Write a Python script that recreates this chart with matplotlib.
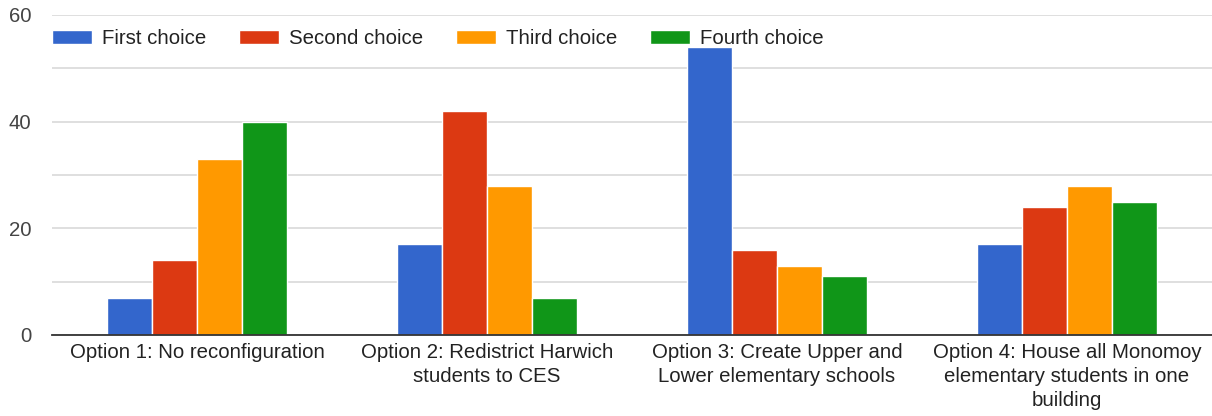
import numpy as np
import matplotlib
matplotlib.use("Agg")
import matplotlib.pyplot as plt

categories = [
    "Option 1: No reconfiguration",
    "Option 2: Redistrict Harwich\nstudents to CES",
    "Option 3: Create Upper and\nLower elementary schools",
    "Option 4: House all Monomoy\nelementary students in one\nbuilding",
]
series_names = ["First choice", "Second choice", "Third choice", "Fourth choice"]
first = [7, 17, 54, 17]
second = [14, 42, 16, 24]
third = [33, 28, 13, 28]
fourth = [40, 7, 11, 25]
colors = ["#3366cc", "#dc3912", "#ff9900", "#109618"]

plt.rcParams["font.family"] = ["Liberation Sans", "DejaVu Sans"]

fig = plt.figure(figsize=(12.12, 4.16), dpi=100)
ax = fig.add_axes([52 / 1212, 1 - 335 / 416, 1160 / 1212, 320 / 416])

x = np.arange(len(categories))
w = 0.155
for i, (vals, name) in enumerate(zip([first, second, third, fourth], series_names)):
    ax.bar(x + (i - 1.5) * w, vals, width=w, color=colors[i], label=name,
           edgecolor="white", linewidth=1.0, zorder=3)

ax.set_xlim(-0.5, len(categories) - 0.5)
ax.set_ylim(0, 60)
ax.set_yticks([0, 20, 40, 60])
ax.set_yticks([10, 30, 50], minor=True)
ax.grid(axis="y", which="both", color="#d9d9d9", linewidth=1.2, zorder=0)
ax.set_xticks(x)
ax.set_xticklabels(categories, fontsize=14.7, color="#222222", va="top", linespacing=1.33)
ax.tick_params(axis="y", which="both", length=0, pad=15, labelsize=14.7, labelcolor="#444444")
ax.tick_params(axis="x", length=0, pad=6)
for s in ["top", "right", "left"]:
    ax.spines[s].set_visible(False)
ax.spines["bottom"].set_color("#333333")
ax.spines["bottom"].set_linewidth(1.3)
ax.spines["bottom"].set_zorder(4)

ax.legend(loc="upper left", bbox_to_anchor=(0.0, 0.955), ncol=4, frameon=False,
          fontsize=14.7, handlelength=1.95, handleheight=0.7, handletextpad=0.5,
          columnspacing=1.6, borderaxespad=0.0, borderpad=0.0,
          labelcolor="#222222")

fig.savefig("out.png", dpi=100)
